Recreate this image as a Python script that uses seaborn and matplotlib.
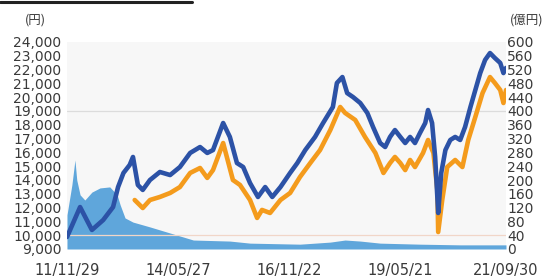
import pandas as pd
import matplotlib
matplotlib.use('Agg')
import matplotlib.pyplot as plt
import seaborn as sns

# 基準価額 (分配金再投資) - blue line, 円
blue_dates = ['2011-11-29', '2012-03-15', '2012-06-20', '2012-09-20', '2012-12-10', '2013-01-20',
              '2013-03-05', '2013-04-25', '2013-05-22', '2013-07-01', '2013-08-10', '2013-10-08',
              '2013-12-28', '2014-03-22', '2014-06-10', '2014-09-02', '2014-11-22', '2015-01-20',
              '2015-03-08', '2015-05-30', '2015-07-24', '2015-09-20', '2015-11-10', '2016-01-05',
              '2016-03-10', '2016-05-08', '2016-07-05', '2016-09-10', '2016-11-28', '2017-01-26',
              '2017-04-01', '2017-06-20', '2017-08-25', '2017-11-13', '2017-12-16', '2018-01-30',
              '2018-03-10', '2018-04-27', '2018-06-25', '2018-08-22', '2018-10-08', '2018-12-05',
              '2019-01-15', '2019-02-24', '2019-04-05', '2019-05-19', '2019-06-28', '2019-08-07',
              '2019-09-16', '2019-10-27', '2019-12-09', '2020-01-01', '2020-02-03', '2020-02-28',
              '2020-03-17', '2020-03-24', '2020-04-18', '2020-05-22', '2020-07-01', '2020-08-10',
              '2020-09-20', '2020-10-30', '2020-12-13', '2021-01-22', '2021-03-03', '2021-04-12',
              '2021-05-22', '2021-07-01', '2021-08-14', '2021-09-09', '2021-09-30']
blue_vals = [9870, 12040, 10380, 11100, 12040, 13490,
             14510, 15090, 15670, 13640, 13280, 14000,
             14580, 14360, 14940, 15960, 16390, 15960,
             16170, 18130, 17120, 15230, 14940, 13780,
             12770, 13490, 12770, 13490, 14510, 15230,
             16170, 17120, 18130, 19290, 21030, 21460,
             20300, 20010, 19580, 18860, 17840, 16680,
             16390, 17120, 17620, 17120, 16680, 17120,
             16680, 17410, 18130, 19070, 18130, 15670,
             12770, 11610, 14510, 16170, 16900, 17120,
             16900, 17840, 19290, 20520, 21750, 22700,
             23200, 22840, 22480, 21750, 22120]

# 基準価額 - orange line, 円
orange_dates = ['2013-06-05', '2013-08-10', '2013-10-08', '2013-12-28', '2014-03-22', '2014-06-10',
                '2014-09-02', '2014-11-22', '2015-01-20', '2015-03-08', '2015-05-30', '2015-08-18',
                '2015-10-15', '2016-01-05', '2016-03-03', '2016-04-12', '2016-06-17', '2016-09-10',
                '2016-11-28', '2017-02-17', '2017-05-12', '2017-07-31', '2017-10-23', '2018-01-12',
                '2018-02-21', '2018-05-15', '2018-08-03', '2018-10-27', '2019-01-01', '2019-02-24',
                '2019-04-05', '2019-05-19', '2019-06-28', '2019-08-07', '2019-09-16', '2019-11-21',
                '2020-01-01', '2020-02-14', '2020-03-17', '2020-03-24', '2020-04-26', '2020-06-06',
                '2020-08-10', '2020-10-08', '2020-11-25', '2021-01-22', '2021-03-22', '2021-05-22',
                '2021-07-01', '2021-08-14', '2021-09-09', '2021-09-30']
orange_vals = [12550, 11970, 12550, 12770, 13060, 13490,
               14510, 14870, 14150, 14720, 16680, 14000,
               13640, 12550, 11250, 11830, 11610, 12550,
               13060, 14220, 15230, 16170, 17620, 19290,
               18860, 18350, 17120, 15960, 14510, 15230,
               15670, 15230, 14720, 15450, 14940, 15960,
               16900, 15960, 13280, 10230, 12550, 14940,
               15450, 14940, 16900, 18570, 20300, 21460,
               21030, 20520, 19580, 20520]

# 純資産総額 - area, 億円
asset_dates = ['2011-11-29', '2012-01-08', '2012-02-02', '2012-02-17', '2012-03-15', '2012-04-23',
               '2012-06-20', '2012-08-25', '2012-11-13', '2013-01-12', '2013-02-06', '2013-03-18',
               '2013-05-22', '2013-10-08', '2014-02-25', '2014-09-28', '2015-07-24', '2016-01-05',
               '2017-02-17', '2017-10-23', '2018-02-21', '2018-06-25', '2018-12-05', '2019-10-27',
               '2020-09-20', '2021-09-30']
asset_vals = [99, 186, 258, 200, 157, 142,
              165, 177, 180, 157, 128, 90,
              78, 64, 49, 26, 23, 17,
              14, 20, 26, 23, 17, 14,
              12, 12]

xtick_dates = ['2011-11-29', '2014-05-27', '2016-11-22', '2019-05-21', '2021-09-30']
xtick_labels = ['11/11/29', '14/05/27', '16/11/22', '19/05/21', '21/09/30']
left_ticks = list(range(9000, 24001, 1000))
right_ticks = list(range(0, 601, 40))

blue = pd.DataFrame({'date': pd.to_datetime(blue_dates), 'value': blue_vals})
orange = pd.DataFrame({'date': pd.to_datetime(orange_dates), 'value': orange_vals})
asset = pd.DataFrame({'date': pd.to_datetime(asset_dates), 'value': asset_vals})

sns.set_style('white')
plt.rcParams['font.family'] = ['DejaVu Sans', 'Noto Sans CJK JP']

fig = plt.figure(figsize=(5.49, 2.77), dpi=100)
ax_r = fig.add_axes([67 / 549, 28 / 277, 439 / 549, 207 / 277])
ax_l = ax_r.twinx()
ax_l.yaxis.tick_left()
ax_r.yaxis.tick_right()
ax_l.set_zorder(ax_r.get_zorder() + 1)
ax_l.patch.set_visible(False)
ax_r.set_facecolor('#f7f7f7')

# 純資産 area (right axis)
ax_r.fill_between(asset['date'], 0, asset['value'], color='#5fa6db', lw=0)
ax_r.axhline(400, color='#dcdcdc', lw=0.9)
ax_r.axhline(40, color='#f1d6c8', lw=0.9)

# 基準価額 lines (left axis)
sns.lineplot(data=orange, x='date', y='value', ax=ax_l, color='#f49b1c', lw=3.3)
sns.lineplot(data=blue, x='date', y='value', ax=ax_l, color='#2c52a6', lw=3.3)

xmin, xmax = pd.Timestamp('2011-11-29'), pd.Timestamp('2021-09-30')
for a in (ax_l, ax_r):
    a.set_xlim(xmin, xmax)
    for s in a.spines.values():
        s.set_visible(False)
    a.set_xlabel('')
    a.set_ylabel('')

ax_l.set_ylim(9000, 24000)
ax_l.set_yticks(left_ticks)
ax_l.set_yticklabels([f'{v:,}' for v in left_ticks])
ax_r.set_ylim(0, 600)
ax_r.set_yticks(right_ticks)
ax_r.set_yticklabels([str(v) for v in right_ticks])

ax_r.set_xticks(pd.to_datetime(xtick_dates))
ax_r.set_xticklabels(xtick_labels)
ax_l.tick_params(axis='x', bottom=False, labelbottom=False)

ax_l.tick_params(axis='y', length=0, pad=4, labelsize=10, labelcolor='#3a3a3a')
ax_r.tick_params(axis='y', length=0, pad=1, labelsize=10, labelcolor='#3a3a3a')
ax_r.tick_params(axis='x', length=0, pad=10, labelsize=10.5, labelcolor='#3a3a3a')

fig.text(35 / 549, 1 - 20 / 277, '(円)', ha='center', va='center', fontsize=9,
         family=['Noto Sans CJK JP', 'DejaVu Sans'], color='#3a3a3a')
fig.text(527 / 549, 1 - 20 / 277, '(億円)', ha='center', va='center', fontsize=9,
         family=['Noto Sans CJK JP', 'DejaVu Sans'], color='#3a3a3a')
fig.add_artist(plt.Line2D([0, 192 / 549], [1 - 2 / 277, 1 - 2 / 277], color='#222222', lw=2.2))

plt.savefig('out.png', dpi=100)
